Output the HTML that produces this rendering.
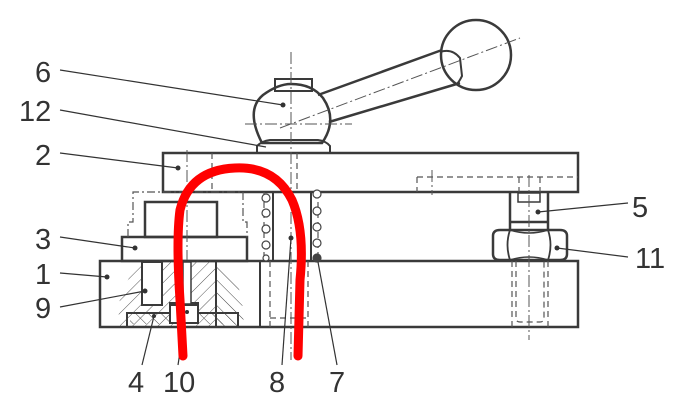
<!DOCTYPE html>
<html><head><style>
html,body{margin:0;padding:0;background:#fff;}
svg{display:block;}
text{font-family:"Liberation Sans",sans-serif;font-size:29px;fill:#333;}
</style></head><body>
<svg width="688" height="410" viewBox="0 0 688 410" xmlns="http://www.w3.org/2000/svg">
<defs>
<pattern id="h" width="9" height="9" patternUnits="userSpaceOnUse" patternTransform="rotate(45)">
<line x1="0" y1="0" x2="0" y2="9" stroke="#444" stroke-width="1"/></pattern>
<pattern id="h2" width="9" height="9" patternUnits="userSpaceOnUse" patternTransform="rotate(-45)">
<line x1="0" y1="0" x2="0" y2="9" stroke="#444" stroke-width="1"/></pattern>
</defs>
<g fill="none" stroke="#3a3a3a" stroke-width="2.5">
<!-- top plate 2 -->
<rect x="163" y="153" width="415" height="39"/>
<!-- lower plate 1 -->
<rect x="100" y="261" width="478" height="66"/>
<!-- part 3 -->
<rect x="122" y="237" width="125" height="24"/>
<rect x="145" y="202" width="72" height="35"/>
<!-- nut 11 -->
<path d="M500 230 H560 Q567 230 567 236 V254 Q567 260 560 260 H500 Q493 260 493 254 V236 Q493 230 500 230Z"/>
<path d="M510 230 Q505 245 510 260 M548 230 Q553 245 548 260" stroke-width="1.8"/>
<path d="M510 230 Q529 236 548 230 M510 260 Q529 254 548 260" stroke-width="1.5"/>
<!-- bolt 5 -->
<path d="M510 192 V230 M548 192 V230 M510 222 H548"/>
<rect x="518" y="193" width="22" height="9" stroke-width="1.5"/>
<!-- pin 8 -->
<path d="M273 192 V261 M311 192 V261" stroke-width="2"/>
<path d="M260 261 V327" stroke-width="2"/>
<!-- knob -->
<path d="M262 143 Q245 110 263 95 Q278 84 291 84 Q312 84 323 98 Q338 120 322 143 Z" stroke-width="2.5"/>
<rect x="275" y="79" width="37" height="12" stroke-width="2"/>
<path d="M257 153 V146 Q262 141 270 140 H318 Q326 141 330 146 V153 Z" stroke-width="2"/>
<path d="M318 95 L442 50 M329 122 L460 83" stroke-width="2.5"/>
<path d="M440 52 Q452 48 460 58 L462 76 Q458 84 456 84" stroke-width="2"/>
<circle cx="476" cy="55" r="35" stroke-width="2.5"/>
<!-- cut region box -->
<path d="M127 326 V313 H238 V326" stroke-width="2"/>
<rect x="142" y="262" width="20" height="43" stroke-width="2"/>
<rect x="170" y="303" width="28" height="18" stroke-width="2"/>
<path d="M216 261 V326" stroke-width="2"/>
</g>
<!-- hatching -->
<path d="M120 326 Q115 300 128 280 Q135 262 160 260 L216 260 L216 326 Z" fill="url(#h)" opacity="0.9"/>
<path d="M216 262 Q235 268 242 300 L244 326 L216 326 Z" fill="url(#h2)"/>
<path d="M130 314 H236 V324 H130Z" fill="url(#h2)"/>
<rect x="142" y="262" width="20" height="43" fill="#fff" stroke="#3a3a3a" stroke-width="2"/>
<rect x="170" y="305" width="28" height="18" fill="#fff" stroke="#3a3a3a" stroke-width="2"/>
<rect x="183" y="262" width="8" height="42" fill="#fff" stroke="#3a3a3a" stroke-width="1.5"/>
<!-- dashed / dash-dot lines -->
<g fill="none" stroke="#555" stroke-width="1.2" stroke-dasharray="6,4">
<path d="M128 237 V222 H133 V192 H243 V222 H247 V237" stroke-dasharray="8,3,2,3"/>
<path d="M212 153 V192 M297 153 V192 M264 192 V261 M318 192 V261"/>
<path d="M417 177 H578 M417 177 V192 M519 177 V192 M540 177 V192"/>
<path d="M516 261 V318 Q516 322 520 322 H540 Q544 322 544 318 V261 M512 261 V327 M548 261 V327"/>
<path d="M270 261 V327 M308 261 V327 M270 318 H308"/>
</g>
<g fill="none" stroke="#555" stroke-width="1" stroke-dasharray="12,3,2,3">
<path d="M291 52 V360"/>
<path d="M245 124 H352"/>
<path d="M280 128 L520 38"/>
<path d="M529 175 V340"/>
<path d="M187 150 V260"/>
<path d="M432 170 V195"/>
</g>
<!-- springs -->
<g fill="#fff" stroke="#444" stroke-width="1.2">
<circle cx="266" cy="198" r="4"/><circle cx="266" cy="213" r="4"/><circle cx="266" cy="229" r="4"/><circle cx="266" cy="245" r="4"/><circle cx="266" cy="258" r="3"/>
<circle cx="317" cy="194" r="4"/><circle cx="317" cy="211" r="4"/><circle cx="317" cy="227" r="4"/><circle cx="317" cy="243" r="4"/><circle cx="317" cy="258" r="4" fill="#444"/>
</g>
<!-- leaders -->
<g stroke="#333" stroke-width="1.2">
<line x1="60" y1="70" x2="283" y2="105"/>
<line x1="60" y1="110" x2="266" y2="147"/>
<line x1="60" y1="153" x2="178" y2="168"/>
<line x1="60" y1="237" x2="135" y2="248"/>
<line x1="60" y1="273" x2="107" y2="277"/>
<line x1="60" y1="307" x2="145" y2="291"/>
<line x1="142" y1="365" x2="154" y2="316"/>
<line x1="178" y1="365" x2="185" y2="320"/>
<line x1="282" y1="365" x2="291" y2="238"/>
<line x1="337" y1="365" x2="318" y2="262"/>
<line x1="628" y1="203" x2="538" y2="212"/>
<line x1="628" y1="257" x2="557" y2="248"/>
</g>
<g fill="#333">
<circle cx="283" cy="105" r="2.5"/><circle cx="178" cy="168" r="2.5"/><circle cx="135" cy="248" r="2.5"/>
<circle cx="107" cy="277" r="2.5"/><circle cx="145" cy="291" r="2.5"/><circle cx="291" cy="238" r="2.5"/>
<circle cx="538" cy="212" r="2.5"/><circle cx="557" cy="248" r="2.5"/><circle cx="154" cy="316" r="2"/><circle cx="187" cy="312" r="2"/>
</g>
<!-- red curve -->
<path d="M183 356 L180 300 Q176 240 180 210 Q190 170 235 168 Q275 166 292 200 Q305 230 300 280 L298 356" fill="none" stroke="#ff0000" stroke-width="9" stroke-linecap="round"/>
<!-- labels -->
<text x="35" y="82">6</text>
<text x="19" y="121">12</text>
<text x="35" y="165">2</text>
<text x="35" y="249">3</text>
<text x="35" y="284">1</text>
<text x="35" y="318">9</text>
<text x="128" y="392">4</text>
<text x="163" y="392">10</text>
<text x="269" y="392">8</text>
<text x="329" y="392">7</text>
<text x="632" y="217">5</text>
<text x="635" y="268">11</text>
</svg>
</body></html>
